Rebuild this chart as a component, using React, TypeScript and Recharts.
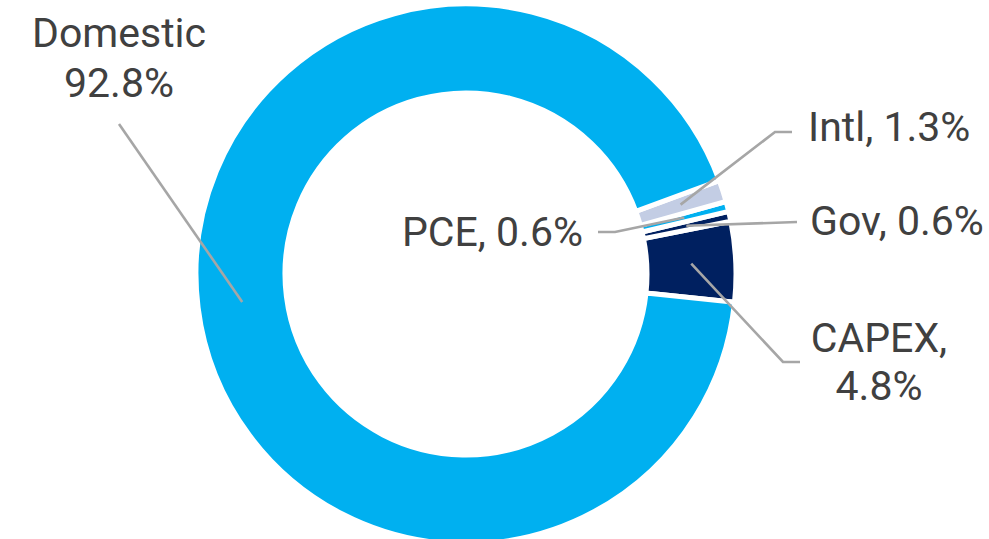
import React from "react";
import { PieChart, Pie, Cell } from "recharts";

const categories = ["CAPEX", "Gov", "PCE", "Intl", "Domestic"];
const shares = [4.8, 0.6, 0.6, 1.3, 92.8];
const colors = ["#002060", "#002060", "#00B0F0", "#C3CDE4", "#00B0F0"];

const data = categories.map((name, i) => ({ name, value: shares[i] }));

// label layout: leader-line elbows/ends and text anchors (layout only)
type Layout = {
  pts: [number, number][];
  x: number;
  ys: number[];
  anchor: "start" | "middle" | "end";
  lines: (name: string, v: string) => string[];
};
const labelLayout: Record<string, Layout> = {
  CAPEX: { pts: [[783, 362], [800, 362]], x: 879, ys: [352, 400], anchor: "middle", lines: (n, v) => [n + ",", v] },
  Gov: { pts: [[797, 222]], x: 810, ys: [235], anchor: "start", lines: (n, v) => [n + ", " + v] },
  PCE: { pts: [[615, 232], [598, 232]], x: 583, ys: [246], anchor: "end", lines: (n, v) => [n + ", " + v] },
  Intl: { pts: [[775, 132], [792, 132]], x: 808, ys: [141], anchor: "start", lines: (n, v) => [n + ", " + v] },
  Domestic: { pts: [[119, 124]], x: 119, ys: [47, 97], anchor: "middle", lines: (n, v) => [n, v] },
};

const RADIAN = Math.PI / 180;

const renderLabel = (props: any) => {
  const { cx, cy, midAngle, innerRadius, outerRadius, index } = props;
  const name = categories[index];
  const lay = labelLayout[name];
  const r = (innerRadius + outerRadius) / 2;
  const sx = cx + r * Math.cos(-midAngle * RADIAN);
  const sy = cy + r * Math.sin(-midAngle * RADIAN);
  const pts = [[sx, sy], ...lay.pts].map((p) => p.join(",")).join(" ");
  const txt = lay.lines(name, shares[index].toFixed(1) + "%");
  return (
    <g key={"lbl-" + index}>
      <polyline points={pts} fill="none" stroke="#A6A6A6" strokeWidth={2.6} />
      {txt.map((t, i) => (
        <text
          key={i}
          x={lay.x}
          y={lay.ys[i]}
          textAnchor={lay.anchor}
          fill="#404040"
          fontSize={41}
          fontFamily="Roboto, 'Noto Sans', sans-serif"
        >
          {t}
        </text>
      ))}
    </g>
  );
};

export default function App() {
  return (
    <div style={{ position: "absolute", left: 0, top: 0, width: 989, height: 539, background: "#fff" }}>
      <PieChart width={989} height={539} margin={{ top: 0, right: 0, bottom: 0, left: 0 }}>
        <Pie
          data={data}
          dataKey="value"
          nameKey="name"
          cx={466}
          cy={274}
          innerRadius={181}
          outerRadius={270}
          startAngle={-6}
          endAngle={354}
          stroke="#FFFFFF"
          strokeWidth={5}
          isAnimationActive={false}
          labelLine={false}
          label={renderLabel}
        >
          {data.map((d, i) => (
            <Cell key={d.name} fill={colors[i]} />
          ))}
        </Pie>
      </PieChart>
    </div>
  );
}
